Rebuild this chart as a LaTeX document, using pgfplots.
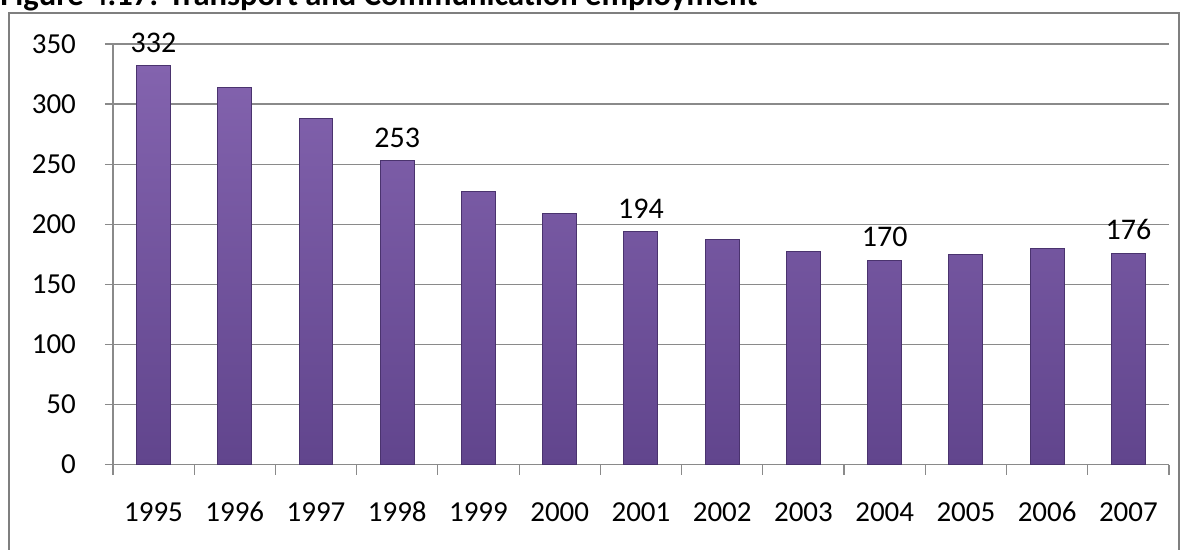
\documentclass[border=0pt]{standalone}
\usepackage{fontspec}
\setmainfont{Carlito}
\usepackage{pgfplots}
\pgfplotsset{compat=1.18}

\definecolor{gridgray}{HTML}{8A8A8A}
\definecolor{framegray}{HTML}{7F7F7F}
\definecolor{bartop}{HTML}{8363AE}
\definecolor{barbot}{HTML}{61458D}
\definecolor{baredge}{HTML}{4A336E}

\begin{document}
\begin{tikzpicture}
\useasboundingbox (-56.5pt,-42.5pt) rectangle (534.5pt,232.5pt);
\clip (-56.5pt,-42.5pt) rectangle (534.5pt,232.5pt);
% outer chart frame (runs off the bottom of the crop)
\draw[framegray, line width=0.9pt] (-52pt,-60pt) -- (-52pt,226pt) -- (533.5pt,226pt) -- (533.5pt,-60pt);
% title, cut off at the top as in the source
\node[anchor=base west, inner sep=0pt, font=\fontsize{16.3}{19}\selectfont\bfseries]
  at (-56.5pt,229.5pt) {Figure 4.17: Transport and Communication employment};

\begin{axis}[
    scale only axis,
    width=528.5pt, height=210.5pt,
    xmin=-0.5, xmax=12.5,
    ymin=0, ymax=350,
    axis lines*=left,
    axis line style={gridgray, line width=0.6pt},
    ytick={0,50,...,350},
    ymajorgrids,
    grid style={gridgray, line width=0.6pt},
    tick align=outside,
    major tick length=4pt,
    tick style={gridgray, line width=0.6pt},
    xtick={0,...,12},
    xticklabels={1995,1996,1997,1998,1999,2000,2001,2002,2003,2004,2005,2006,2007},
    major x tick style={draw=none},
    extra x ticks={-0.5,0.5,...,12.5},
    extra x tick labels={},
    extra x tick style={major tick length=5pt, grid=none, major x tick style={draw=gridgray}},
    /pgf/number format/assume math mode=true,
    ticklabel style={font=\fontsize{14.5}{17}\selectfont},
    xticklabel style={yshift=-12pt, text height=9pt, text depth=0pt},
    yticklabel style={xshift=-11pt},
]
\addplot[ybar, bar width=17pt, draw=baredge, line width=0.5pt,
    top color=bartop, bottom color=barbot,
    point meta=explicit symbolic,
    nodes near coords={\pgfplotspointmeta},
    nodes near coords style={font=\fontsize{15}{18}\selectfont, anchor=south, yshift=3pt, text=black}]
table[x=x, y=y, meta=lab] {
x  y   lab
0  332 332
1  314 {}
2  288 {}
3  253 253
4  227 {}
5  209 {}
6  194 194
7  187 {}
8  177 {}
9  170 170
10 175 {}
11 180 {}
12 176 176
};
\end{axis}
\end{tikzpicture}
\end{document}
